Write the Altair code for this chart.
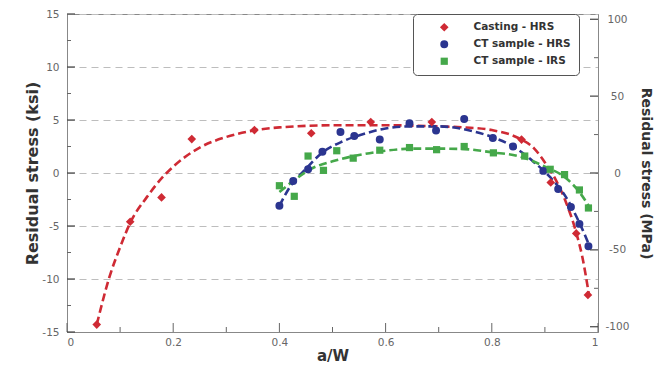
import altair as alt
import pandas as pd

# ---------------- data ----------------
series_names = ["Casting - HRS", "CT sample - HRS", "CT sample - IRS"]
series_colors = ["#cf2a34", "#2b3590", "#45a84a"]
series_shapes = ["diamond", "circle", "square"]
series_sizes = [75, 52, 42]

cast_a = [0.056, 0.119, 0.178, 0.235, 0.353, 0.460, 0.572, 0.687, 0.856, 0.911, 0.959, 0.981]
cast_s = [-14.3, -4.6, -2.3, 3.2, 4.05, 3.75, 4.8, 4.8, 3.15, -0.9, -5.7, -11.5]

hrs_a = [0.400, 0.426, 0.454, 0.481, 0.515, 0.541, 0.589, 0.645, 0.695, 0.748, 0.802, 0.840,
         0.897, 0.925, 0.949, 0.965, 0.982]
hrs_s = [-3.1, -0.75, 0.35, 2.0, 3.87, 3.5, 3.15, 4.7, 4.0, 5.1, 3.3, 2.5, 0.2, -1.5, -3.2, -4.8, -6.9]

irs_a = [0.400, 0.428, 0.454, 0.483, 0.508, 0.539, 0.589, 0.645, 0.696, 0.748, 0.803, 0.862,
         0.910, 0.937, 0.965, 0.982]
irs_s = [-1.2, -2.2, 1.6, 0.25, 2.1, 1.4, 2.15, 2.4, 2.2, 2.5, 1.9, 1.6, 0.35, -0.15, -1.6, -3.3]

# fitted (dashed) trend curves
cast_fit_a = [0.056, 0.08, 0.10, 0.12, 0.15, 0.18, 0.20, 0.25, 0.30, 0.35, 0.40, 0.50, 0.60,
              0.70, 0.75, 0.80, 0.85, 0.88, 0.90, 0.92, 0.94, 0.96, 0.97, 0.983]
cast_fit_s = [-14.3, -9.8, -7.0, -4.6, -2.3, -0.4, 0.6, 2.4, 3.4, 4.0, 4.3, 4.5, 4.5,
              4.4, 4.3, 4.05, 3.3, 2.3, 1.0, -0.6, -2.8, -5.8, -7.8, -11.5]

hrs_fit_a = [0.40, 0.42, 0.45, 0.48, 0.52, 0.56, 0.60, 0.65, 0.70, 0.75, 0.80, 0.84, 0.88,
             0.91, 0.94, 0.965, 0.985]
hrs_fit_s = [-3.1, -1.3, 0.4, 1.9, 3.0, 3.7, 4.2, 4.4, 4.4, 4.1, 3.4, 2.5, 1.0,
             -0.4, -2.3, -4.7, -7.0]

irs_fit_a = [0.40, 0.43, 0.46, 0.50, 0.55, 0.60, 0.65, 0.70, 0.75, 0.80, 0.85, 0.90, 0.94,
             0.965, 0.985]
irs_fit_s = [-1.8, -0.6, 0.4, 1.1, 1.7, 2.1, 2.3, 2.3, 2.25, 1.95, 1.6, 0.6, -0.5, -1.8, -3.3]

# axis tick values
x_major = [0, 0.2, 0.4, 0.6, 0.8, 1]
x_minor = [0.1, 0.3, 0.5, 0.7, 0.9]
ksi_major = [-15, -10, -5, 0, 5, 10, 15]
ksi_minor = [-12.5, -7.5, -2.5, 2.5, 7.5, 12.5]
mpa_major = [-100, -50, 0, 50, 100]
mpa_minor = [-75, -25, 25, 75]
ksi_to_mpa = 6.894757
mpa_lim = 15 * ksi_to_mpa

# ---------------- tables ----------------
pts = pd.concat([
    pd.DataFrame({"a": cast_a, "s": cast_s, "series": series_names[0]}),
    pd.DataFrame({"a": hrs_a, "s": hrs_s, "series": series_names[1]}),
    pd.DataFrame({"a": irs_a, "s": irs_s, "series": series_names[2]}),
], ignore_index=True)
fits = pd.concat([
    pd.DataFrame({"a": cast_fit_a, "s": cast_fit_s, "series": series_names[0]}),
    pd.DataFrame({"a": hrs_fit_a, "s": hrs_fit_s, "series": series_names[1]}),
    pd.DataFrame({"a": irs_fit_a, "s": irs_fit_s, "series": series_names[2]}),
], ignore_index=True)

W, H = 531, 318
FONT = "DejaVu Sans"

xs = alt.Scale(domain=[0, 1], nice=False, zero=False)
ys = alt.Scale(domain=[-15, 15], nice=False, zero=False)
yr = alt.Scale(domain=[-mpa_lim, mpa_lim], nice=False, zero=False)

leg = alt.Legend(title=None)
cscale = alt.Scale(domain=series_names, range=series_colors)
sscale = alt.Scale(domain=series_names, range=series_shapes)
zscale = alt.Scale(domain=series_names, range=series_sizes)

lbl = "'' + datum.value"
x_axis = alt.Axis(values=x_major, labelExpr=lbl, ticks=False, grid=False, domainColor="#888",
                  labelFont=FONT, labelFontSize=10.5, labelColor="#666", labelPadding=5,
                  title="a/W", titleFont=FONT, titleFontSize=15, titleFontWeight="bold",
                  titleColor="#333", titlePadding=1)
y_axis = alt.Axis(values=ksi_major, labelExpr=lbl, ticks=False, grid=True, gridDash=[7, 5],
                  gridColor="#bdbdbd", domainColor="#888", labelFont=FONT, labelFontSize=10.5,
                  labelColor="#666", labelPadding=8, title="Residual stress (ksi)", titleFont=FONT,
                  titleFontSize=16, titleFontWeight="bold", titleColor="#333", titlePadding=1)
yr_axis = alt.Axis(values=mpa_major, labelExpr=lbl, ticks=False, grid=False, domainColor="#888",
                   orient="right", labelAlign="center", labelFont=FONT, labelFontSize=10.5,
                   labelColor="#666", labelPadding=19, title="Residual stress (MPa)",
                   titleFont=FONT, titleFontSize=14, titleFontWeight="bold", titleColor="#333",
                   titlePadding=10)

X = alt.X("a:Q", scale=xs, axis=x_axis)
Y = alt.Y("s:Q", scale=ys, axis=y_axis)

lines = alt.Chart(fits).mark_line(strokeDash=[8, 4], strokeWidth=2.6, interpolate="monotone").encode(
    x=X, y=Y,
    color=alt.Color("series:N", scale=cscale, legend=leg),
    detail="series:N",
)
points = alt.Chart(pts).mark_point(filled=True, opacity=1).encode(
    x=X, y=Y,
    color=alt.Color("series:N", scale=cscale, legend=leg),
    shape=alt.Shape("series:N", scale=sscale, legend=leg),
    size=alt.Size("series:N", scale=zscale, legend=None),
)

xmaj_df = pd.DataFrame({"a": x_major})
xmin_df = pd.DataFrame({"a": x_minor})
ymaj_df = pd.DataFrame({"s": ksi_major})
ymin_df = pd.DataFrame({"s": ksi_minor})
rmaj_df = pd.DataFrame({"m": mpa_major})
rmin_df = pd.DataFrame({"m": mpa_minor})

tick_color = "#666"
xt_major = alt.Chart(xmaj_df).mark_rule(color=tick_color, strokeWidth=1).encode(
    x=X, y=alt.value(H), y2=alt.value(H - 9))
xt_minor = alt.Chart(xmin_df).mark_rule(color=tick_color, strokeWidth=1).encode(
    x=X, y=alt.value(H), y2=alt.value(H - 5))
yt_major = alt.Chart(ymaj_df).mark_rule(color="#444", strokeWidth=1.2).encode(
    y=Y, x=alt.value(0), x2=alt.value(8))
yt_minor = alt.Chart(ymin_df).mark_rule(color=tick_color, strokeWidth=1).encode(
    y=Y, x=alt.value(0), x2=alt.value(4))

left = alt.layer(lines, xt_major, xt_minor, yt_major, yt_minor, points)

YR = alt.Y("m:Q", scale=yr, axis=yr_axis)
rt_major = alt.Chart(rmaj_df).mark_rule(color="#444", strokeWidth=1.2).encode(
    y=YR, x=alt.value(W), x2=alt.value(W - 8))
rt_minor = alt.Chart(rmin_df).mark_rule(color=tick_color, strokeWidth=1).encode(
    y=YR, x=alt.value(W), x2=alt.value(W - 4))
right = alt.layer(rt_major, rt_minor)

chart = alt.layer(left, right).resolve_scale(y="independent").properties(
    width=W, height=H,
    autosize=alt.AutoSizeParams(type="none"),
    padding={"left": 59, "top": 6, "right": 56, "bottom": 36},
    background="white",
).configure_view(stroke="#888", strokeWidth=1).configure_legend(
    orient="none", legendX=346, legendY=0,
    strokeColor="#555", strokeWidth=1, cornerRadius=4, fillColor="white",
    padding=8, rowPadding=6, symbolOffset=18, labelOffset=24,
    symbolSize=45, symbolStrokeWidth=0,
    labelFont=FONT, labelFontSize=10.5, labelFontWeight="bold", labelColor="#333",
)

chart.save("out.html", embed_options={"renderer": "svg", "actions": False})
